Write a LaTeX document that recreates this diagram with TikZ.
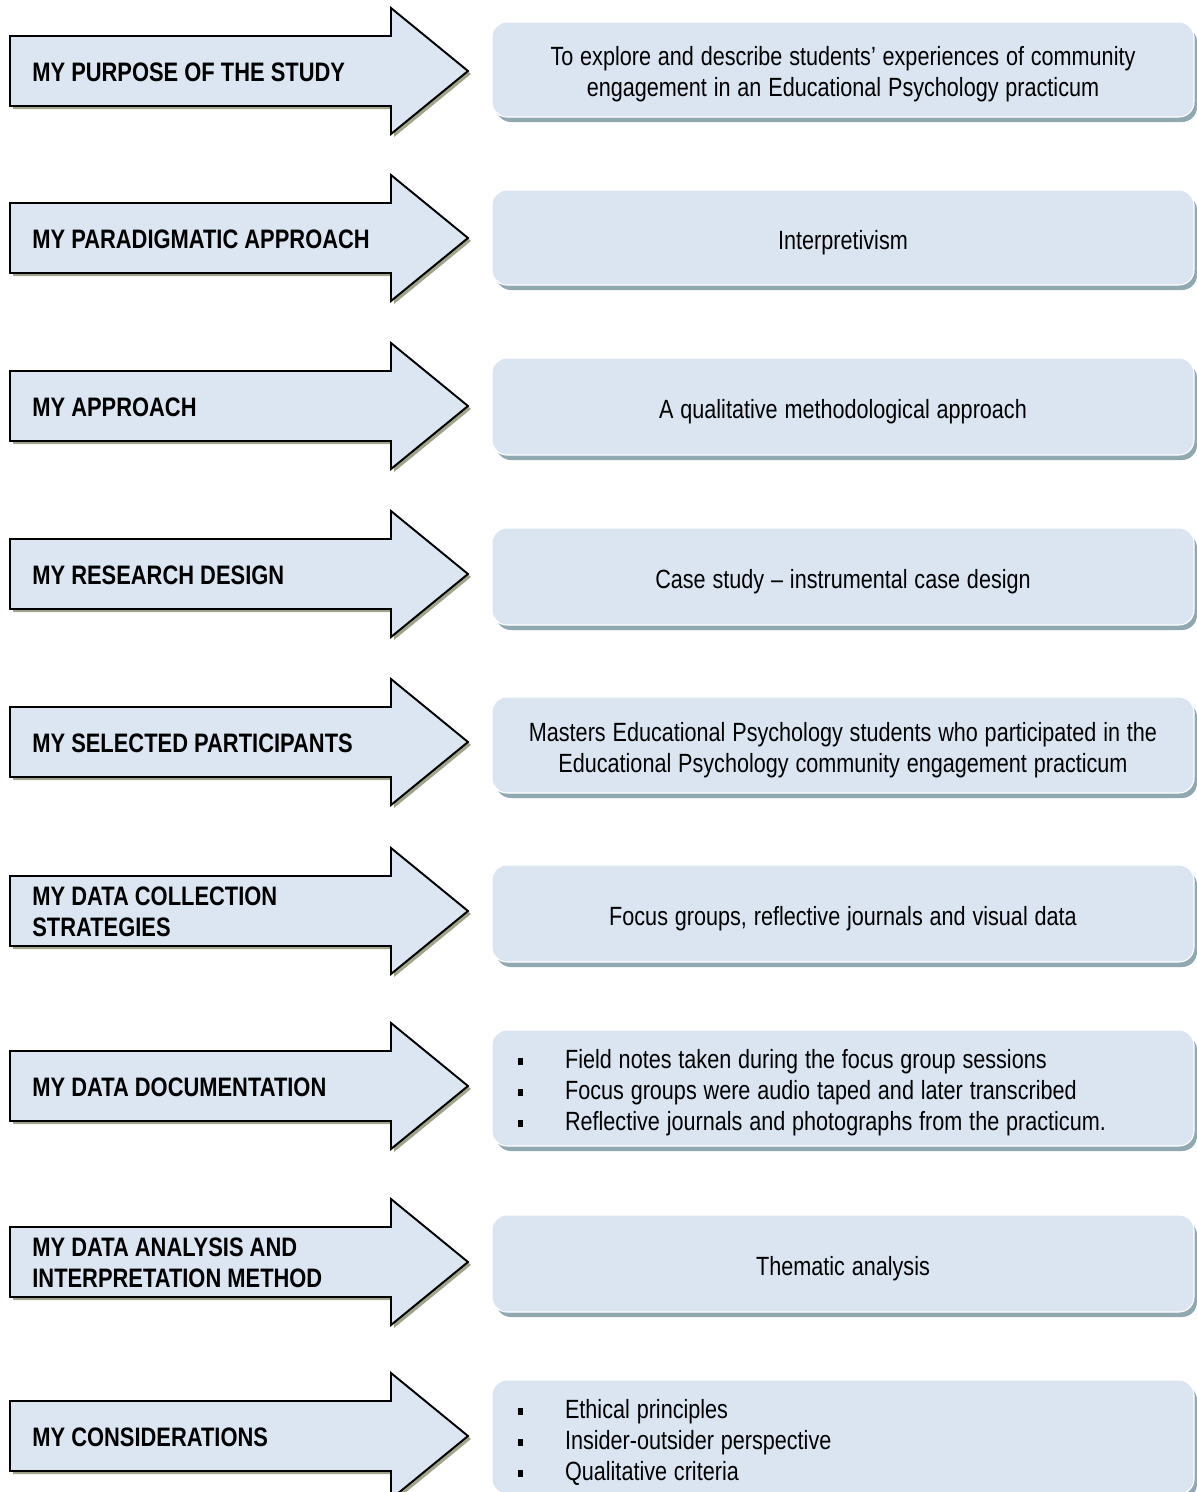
\documentclass[tikz,border=0pt]{standalone}
\usepackage{fontspec}
\setmainfont{Liberation Sans}
\newfontfamily\narrowfont[FakeStretch=0.82]{Liberation Sans}
\definecolor{arrowfill}{HTML}{DCE6F2}
\definecolor{boxfill}{HTML}{DBE5F1}
\definecolor{arrowshade}{HTML}{A0A58A}
\definecolor{boxshade}{HTML}{90A9B1}
\newcommand{\sqitem}{\makebox[0.94cm][l]{\raisebox{0.07cm}{\rule{0.09cm}{0.14cm}}}}

\begin{document}
\begin{tikzpicture}[x=0.02cm,y=-0.02cm,
    arrowlab/.style={anchor=west,inner sep=0pt,align=left,font=\narrowfont\bfseries\fontsize{15.2}{17.6}\selectfont},
    boxtxt/.style={inner sep=0pt,text width=13cm,font=\narrowfont\fontsize{15}{17.6}\selectfont,
      execute at begin node={\spaceskip=0.26em\relax}}]
  \useasboundingbox (0,0) rectangle (1197,1492);
  \foreach \yc/\bt/\bb/\al/\lab/\txt [count=\i] in {
      71/22/117/center/{MY PURPOSE OF THE STUDY}/{To explore and describe students’ experiences of community\\engagement in an Educational Psychology practicum},
      238/190/285/center/{MY PARADIGMATIC APPROACH}/{Interpretivism},
      406/358/455/center/{MY APPROACH}/{A qualitative methodological approach},
      574/528/625/center/{MY RESEARCH DESIGN}/{Case study – instrumental case design},
      742/697/793/center/{MY SELECTED PARTICIPANTS}/{Masters Educational Psychology students who participated in the\\Educational Psychology community engagement practicum},
      911/865/962/center/{MY DATA COLLECTION\\STRATEGIES}/{Focus groups, reflective journals and visual data},
      1086/1030/1146/left/{MY DATA DOCUMENTATION}/{\sqitem Field notes taken during the focus group sessions\\\sqitem Focus groups were audio taped and later transcribed\\\sqitem Reflective journals and photographs from the practicum.},
      1262/1215/1312/center/{MY DATA ANALYSIS AND\\INTERPRETATION METHOD}/{Thematic analysis},
      1436/1380/1494/left/{MY CONSIDERATIONS}/{\sqitem Ethical principles\\\sqitem Insider-outsider perspective\\\sqitem Qualitative criteria}}{
    \fill[arrowshade, shift={(3,3)}] (10,\yc-35) -- (391,\yc-35) -- (391,\yc-63) -- (468,\yc) -- (391,\yc+63) -- (391,\yc+35) -- (10,\yc+35) -- cycle;
    \filldraw[fill=arrowfill, line width=1.1pt] (10,\yc-35) -- (391,\yc-35) -- (391,\yc-63) -- (468,\yc) -- (391,\yc+63) -- (391,\yc+35) -- (10,\yc+35) -- cycle;
    \node[arrowlab] (lab\i) at (32,\yc+1) {\lab};
    \fill[boxshade, rounded corners=0.3cm] (496,\bt+5) rectangle (1197,\bb+5);
    \filldraw[fill=boxfill, draw=white, line width=0.6pt, rounded corners=0.3cm] (492,\bt) rectangle (1194,\bb);
    \node[boxtxt, align/.expanded=\al] (box\i) at (843,{(\bt+\bb)/2+5}) {\txt};
  }
\end{tikzpicture}
\end{document}
